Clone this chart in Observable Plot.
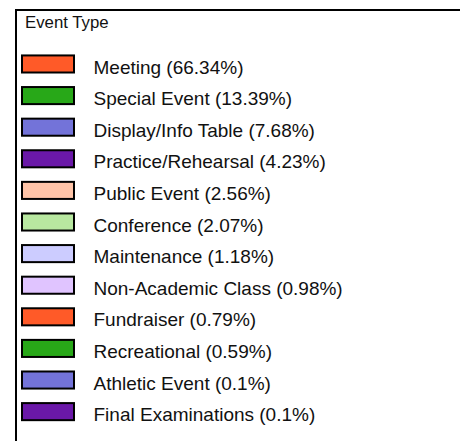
<!DOCTYPE html>
<html>
<head>
<meta charset="utf-8">
<script src="https://cdn.jsdelivr.net/npm/d3@7"></script>
<script src="https://cdn.jsdelivr.net/npm/@observablehq/plot@0.6"></script>
<style>
  html, body { margin: 0; padding: 0; background: #fff; overflow: hidden; }
  #wrap { position: relative; width: 460px; height: 441px; overflow: hidden; font-family: "Liberation Sans", Arial, sans-serif; }
  #box { position: absolute; left: 15px; top: 9px; width: 600px; height: 600px; border-left: 2px solid #000; border-top: 2px solid #000; }
  #title { position: absolute; left: 25px; top: 13px; font-size: 16.8px; color: #111; line-height: 1.15; }
  #chart { position: absolute; left: 0; top: 0; }
</style>
</head>
<body>
<div id="wrap">
  <div id="box"></div>
  <div id="title">Event Type</div>
  <div id="chart"></div>
</div>
<script>
const legendTitle = "Event Type";
const categories = ["Meeting", "Special Event", "Display/Info Table", "Practice/Rehearsal", "Public Event", "Conference", "Maintenance", "Non-Academic Class", "Fundraiser", "Recreational", "Athletic Event", "Final Examinations"];
const percents = [66.34, 13.39, 7.68, 4.23, 2.56, 2.07, 1.18, 0.98, 0.79, 0.59, 0.1, 0.1];
const colors = ["#ff5a28", "#28a818", "#7373d9", "#6a18a8", "#ffc4a8", "#b8e8a0", "#ccccff", "#e0c4ff", "#ff5a28", "#28a818", "#7373d9", "#6a18a8"];

document.getElementById("title").textContent = legendTitle;

const data = categories.map((c, i) => ({label: c, pct: percents[i], color: colors[i]}));

const chart = Plot.plot({
  width: 460,
  height: 441,
  marginLeft: 0, marginRight: 0, marginTop: 0, marginBottom: 0,
  style: {background: "transparent", fontFamily: "'Liberation Sans', Arial, sans-serif"},
  x: {type: "linear", domain: [0, 1], range: [22, 74], axis: null},
  y: {type: "band", domain: categories, range: [40.9, 434.7], padding: 0.46, round: false, axis: null},
  marks: [
    Plot.barX(data, {x1: 0, x2: 1, y: "label", fill: "color", stroke: "#000", strokeWidth: 2}),
    Plot.text(data, {x: 1, dx: 19, dy: 3, y: "label", text: d => `${d.label} (${d.pct}%)`, textAnchor: "start", fontSize: 19, fill: "#111"})
  ]
});
document.getElementById("chart").appendChild(chart);
</script>
</body>
</html>
